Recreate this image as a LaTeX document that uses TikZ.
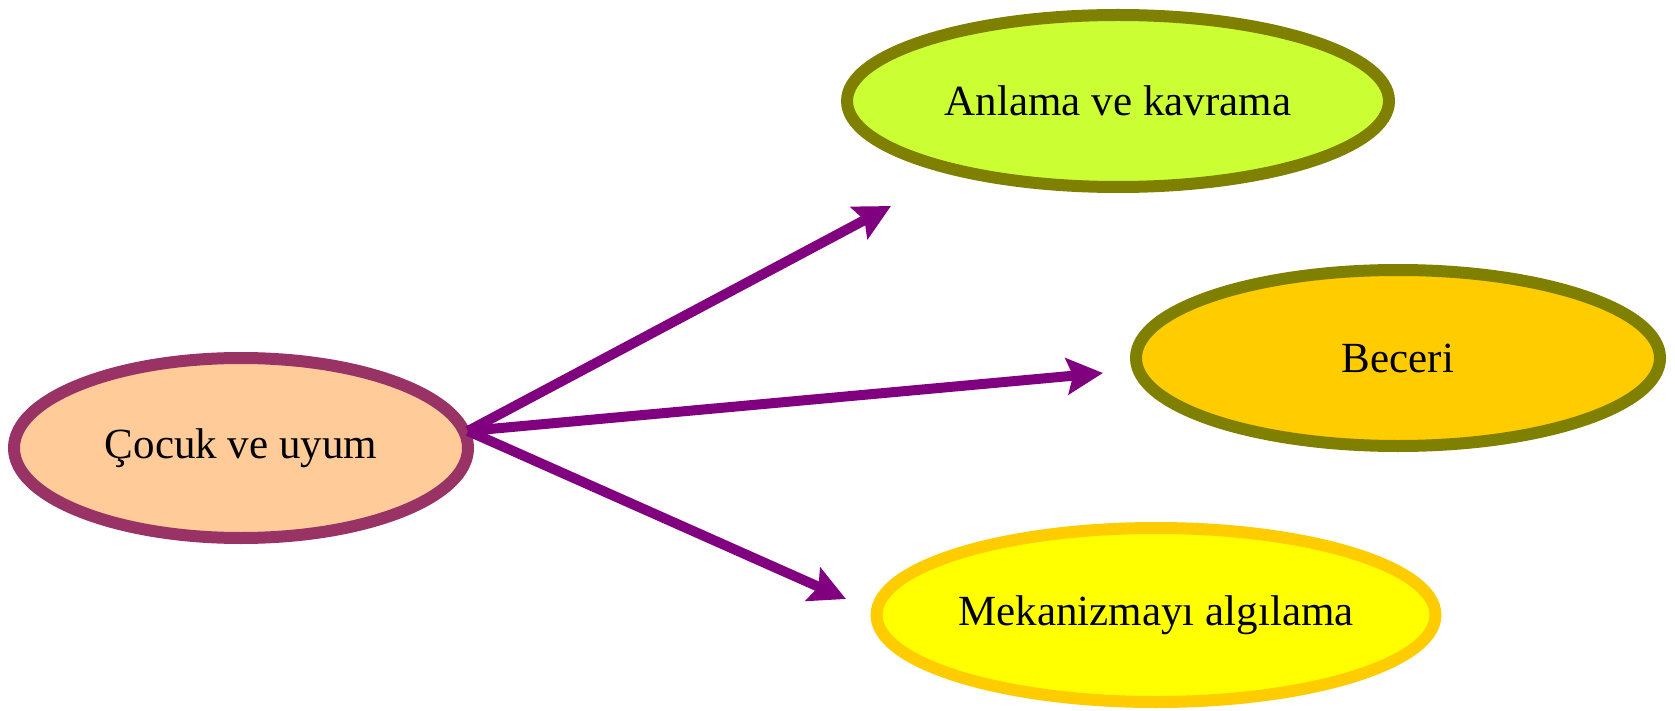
\documentclass[tikz,border=0pt]{standalone}
\usepackage{fontspec}
\setmainfont{Liberation Serif}
\usetikzlibrary{shapes.geometric,arrows.meta}
\definecolor{peach}{HTML}{FFCC99}
\definecolor{plum}{HTML}{993366}
\definecolor{limey}{HTML}{CCFF33}
\definecolor{olivey}{HTML}{808000}
\definecolor{goldy}{HTML}{FFCC00}
\definecolor{yellowy}{HTML}{FFFF00}
\definecolor{arrowpurple}{HTML}{800080}
\tikzset{
  bubble/.style={ellipse, line width=12pt, inner sep=0pt, outer sep=0pt,
    font=\fontsize{43}{48}\selectfont},
  link/.style={draw=arrowpurple, line width=10pt,
    -{Stealth[length=36pt, width=36pt, inset=6pt]}, shorten >=0pt}
}
\begin{document}
\begin{tikzpicture}[x=1pt, y=-1pt]
\useasboundingbox (0,0) rectangle (1675,711);
\node[bubble, draw=plum, fill=peach, minimum width=454pt, minimum height=180pt] (child) at (241,448) {Çocuk ve uyum};
\node[bubble, draw=olivey, fill=limey, minimum width=542pt, minimum height=172pt] (anl) at (1118,101) {Anlama ve kavrama};
\node[bubble, draw=olivey, fill=goldy, minimum width=524pt, minimum height=176pt] (bec) at (1398,358) {Beceri};
\node[bubble, draw=goldy, fill=yellowy, minimum width=552pt, minimum height=174pt] (mek) at (1156,615) {Mekanizmayı algılama};
\coordinate (hub) at (468,431);
\coordinate (t1) at (891,206);
\coordinate (t2) at (1103,373);
\coordinate (t3) at (846,599);
\draw[link] (hub) -- (t1);
\draw[link] (hub) -- (t2);
\draw[link] (hub) -- (t3);
\end{tikzpicture}
\end{document}
